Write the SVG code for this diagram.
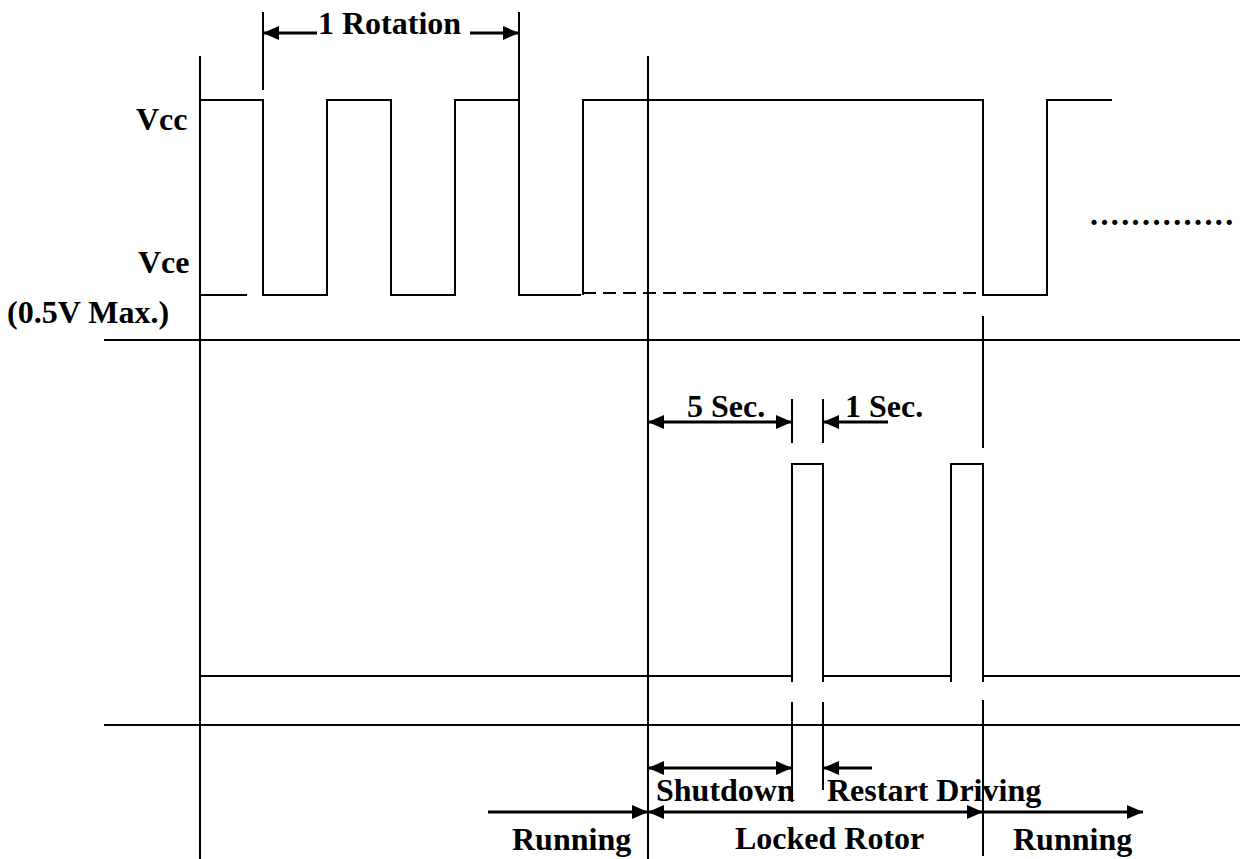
<svg xmlns="http://www.w3.org/2000/svg" width="1244" height="859" viewBox="0 0 1244 859">
<style>
  .ln{stroke:#000;stroke-width:2;fill:none}
  .dash{stroke:#000;stroke-width:2;fill:none;stroke-dasharray:13 7}
  .t{font-family:"Liberation Serif","Times New Roman",serif;font-weight:bold;font-size:32px;fill:#000}
  .ar{stroke:#000;stroke-width:3;fill:none}
</style>
<defs>
  <marker id="ah" viewBox="0 0 16 14" refX="16" refY="7" markerWidth="16" markerHeight="14" orient="auto-start-reverse" markerUnits="userSpaceOnUse">
    <path d="M0,0 L16,7 L0,14 z" fill="#000"/>
  </marker>
</defs>
<rect width="1244" height="859" fill="#fff"/>

<g id="axes">
  <line class="ln" x1="200" y1="56" x2="200" y2="859"/>
  <line class="ln" x1="648" y1="56" x2="648" y2="859"/>
  <line class="ln" x1="104" y1="340" x2="1240" y2="340"/>
  <line class="ln" x1="104" y1="725" x2="1240" y2="725"/>
</g>

<g id="top-waveform">
  <line class="ln" x1="200" y1="295" x2="247" y2="295"/>
  <polyline class="ln" points="200,100 263,100 263,295 327,295 327,100 391,100 391,295 455,295 455,100 519,100 519,295 581,295"/>
  <polyline class="ln" points="583,295 583,100 983,100 983,295 1047,295 1047,100 1112,100"/>
  <line class="dash" x1="583" y1="293" x2="983" y2="293"/>
  <line class="ln" x1="263" y1="12" x2="263" y2="90"/>
  <line class="ln" x1="519" y1="12" x2="519" y2="100"/>
  <text class="t" x="1090" y="225" letter-spacing="2.4">..............</text>
</g>

<g id="bottom-waveform">
  <polyline class="ln" points="200,676 792,676 792,464 823,464 823,676 951,676 951,464 983,464 983,676 1240,676"/>
  <line class="ln" x1="792" y1="676" x2="792" y2="682"/>
  <line class="ln" x1="823" y1="676" x2="823" y2="682"/>
  <line class="ln" x1="951" y1="676" x2="951" y2="682"/>
  <line class="ln" x1="983" y1="676" x2="983" y2="682"/>
  <line class="ln" x1="983" y1="316" x2="983" y2="448"/>
  <line class="ln" x1="792" y1="399" x2="792" y2="443"/>
  <line class="ln" x1="823" y1="399" x2="823" y2="443"/>
  <line class="ln" x1="792" y1="702" x2="792" y2="802"/>
  <line class="ln" x1="823" y1="702" x2="823" y2="790"/>
  <line class="ln" x1="983" y1="700" x2="983" y2="856"/>
</g>

<g id="connectors">
  <line class="ar" x1="317" y1="33" x2="263" y2="33" marker-end="url(#ah)"/>
  <line class="ar" x1="470" y1="33" x2="519" y2="33" marker-end="url(#ah)"/>
  <line class="ar" x1="648" y1="422" x2="792" y2="422" marker-start="url(#ah)" marker-end="url(#ah)"/>
  <line class="ar" x1="888" y1="422" x2="823" y2="422" marker-end="url(#ah)"/>
  <line class="ar" x1="648" y1="768" x2="792" y2="768" marker-start="url(#ah)" marker-end="url(#ah)"/>
  <line class="ar" x1="872" y1="768" x2="823" y2="768" marker-end="url(#ah)"/>
  <line class="ar" x1="488" y1="812" x2="648" y2="812" marker-end="url(#ah)"/>
  <line class="ar" x1="648" y1="812" x2="983" y2="812" marker-start="url(#ah)" marker-end="url(#ah)"/>
  <line class="ar" x1="983" y1="812" x2="1143" y2="812" marker-end="url(#ah)"/>
</g>

<g id="labels">
  <text class="t" x="318" y="34">1 Rotation</text>
  <text class="t" x="136" y="130">Vcc</text>
  <text class="t" x="138" y="273">Vce</text>
  <text class="t" x="7" y="323">(0.5V Max.)</text>
  <text class="t" x="687" y="417">5 Sec.</text>
  <text class="t" x="845" y="417">1 Sec.</text>
  <text class="t" x="656" y="801">Shutdown</text>
  <text class="t" x="827" y="801">Restart Driving</text>
  <text class="t" x="512" y="850">Running</text>
  <text class="t" x="735" y="849">Locked Rotor</text>
  <text class="t" x="1013" y="850">Running</text>
</g>
</svg>
